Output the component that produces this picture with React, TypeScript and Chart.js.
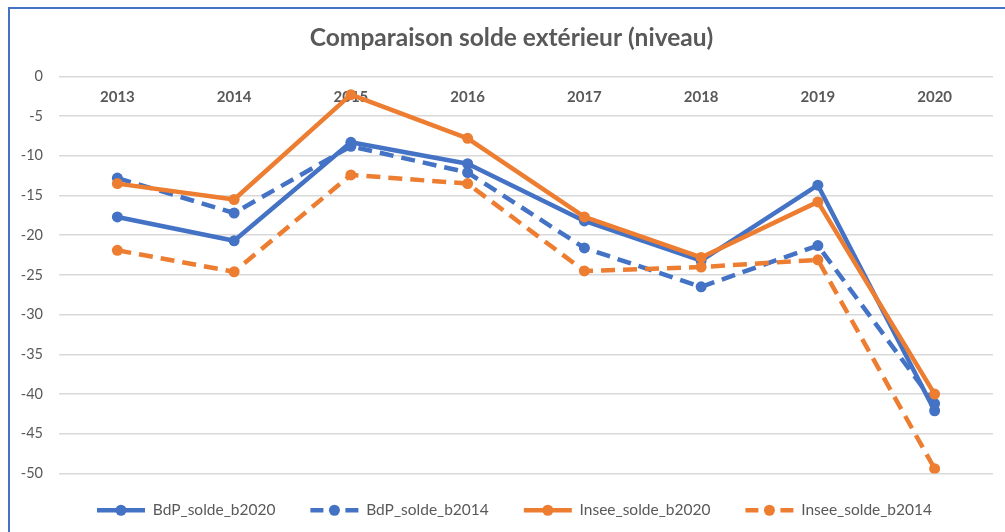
import React, { useEffect, useRef } from "react";
import { Chart, registerables } from "chart.js";

Chart.register(...registerables);

const categories = ["2013", "2014", "2015", "2016", "2017", "2018", "2019", "2020"];
const seriesNames = ["BdP_solde_b2020", "BdP_solde_b2014", "Insee_solde_b2020", "Insee_solde_b2014"];
const bdpB2020 = [-17.7, -20.7, -8.3, -11.0, -18.2, -23.2, -13.7, -42.1];
const bdpB2014 = [-12.8, -17.2, -8.8, -12.1, -21.6, -26.5, -21.3, -41.2];
const inseeB2020 = [-13.5, -15.5, -2.3, -7.8, -17.7, -22.8, -15.8, -40.0];
const inseeB2014 = [-21.9, -24.6, -12.4, -13.5, -24.5, -24.0, -23.1, -49.4];
const yTickValues = [0, -5, -10, -15, -20, -25, -30, -35, -40, -45, -50];
const titleText = "Comparaison solde extérieur (niveau)";

const BLUE = "#4472C4";
const ORANGE = "#ED7D31";
const TEXT = "#595959";
const seriesColors = [BLUE, BLUE, ORANGE, ORANGE];
const seriesDashed = [false, true, false, true];
const seriesValues = [bdpB2020, bdpB2014, inseeB2020, inseeB2014];

const SYMBOL_W = 48;
const SYMBOL_LEAD = 6;

const legendSymbols = {
  id: "legendSymbols",
  afterLayout(chart: any) {
    const y = chart.scales.y;
    if (y) y.left = 0;
  },
  afterDraw(chart: any) {
    const legend = chart.legend;
    if (!legend || !legend.legendHitBoxes) return;
    const ctx = chart.ctx;
    legend.legendHitBoxes.forEach((hb: any, i: number) => {
      const item = legend.legendItems[i];
      const idx = item.datasetIndex;
      const color = seriesColors[idx];
      const x0 = hb.left + SYMBOL_LEAD;
      const cy = hb.top + hb.height / 2;
      ctx.save();
      ctx.strokeStyle = color;
      ctx.lineWidth = 4.5;
      ctx.lineCap = "butt";
      ctx.setLineDash(seriesDashed[idx] ? [13, 22] : []);
      ctx.beginPath();
      ctx.moveTo(x0, cy);
      ctx.lineTo(x0 + SYMBOL_W, cy);
      ctx.stroke();
      ctx.setLineDash([]);
      ctx.fillStyle = color;
      ctx.beginPath();
      ctx.arc(x0 + SYMBOL_W / 2, cy, 5.5, 0, Math.PI * 2);
      ctx.fill();
      ctx.restore();
    });
  },
};

export default function App() {
  const canvasRef = useRef<HTMLCanvasElement | null>(null);

  useEffect(() => {
    document.body.style.margin = "0";
    const canvas = canvasRef.current;
    if (!canvas) return;
    Chart.defaults.font.family = 'Lato, "Noto Sans", sans-serif';

    const datasets = seriesNames.map((name, i) => ({
      label: name,
      data: seriesValues[i],
      borderColor: seriesColors[i],
      backgroundColor: seriesColors[i],
      pointBackgroundColor: seriesColors[i],
      pointBorderColor: seriesColors[i],
      pointBorderWidth: 0,
      pointRadius: 5.5,
      borderWidth: 4.5,
      borderDash: seriesDashed[i] ? [14, 8] : [],
      borderCapStyle: "butt" as const,
      borderJoinStyle: "round" as const,
      tension: 0,
      fill: false,
      order: seriesNames.length - i,
    }));

    const chart = new Chart(canvas, {
      type: "line",
      data: { labels: categories, datasets },
      plugins: [legendSymbols],
      options: {
        animation: false,
        responsive: false,
        maintainAspectRatio: false,
        layout: { padding: { left: 30, right: 12, top: 0, bottom: 4 } },
        plugins: {
          tooltip: { enabled: false },
          title: {
            display: true,
            text: titleText,
            color: TEXT,
            font: { size: 24.5, weight: "bold" },
            padding: { top: 23, bottom: 24 },
          },
          legend: {
            display: true,
            position: "bottom",
            labels: {
              usePointStyle: true,
              pointStyleWidth: SYMBOL_W + SYMBOL_LEAD,
              padding: 29,
              color: TEXT,
              font: { size: 15.5 },
              generateLabels: (ch: any) => {
                const items = Chart.defaults.plugins.legend.labels.generateLabels(ch);
                items.sort((a: any, b: any) => a.datasetIndex - b.datasetIndex);
                return items.map((it: any) => ({
                  ...it,
                  pointStyle: "line",
                  strokeStyle: "rgba(0,0,0,0)",
                  fillStyle: "rgba(0,0,0,0)",
                  lineWidth: 0,
                  lineDash: [],
                  fontColor: TEXT,
                }));
              },
            },
          },
        },
        scales: {
          x: {
            type: "category",
            position: { y: 0 } as any,
            offset: true,
            grid: { display: false, drawTicks: false },
            border: { display: false },
            ticks: {
              color: TEXT,
              font: { size: 15, weight: "bold" },
              padding: 12,
              maxRotation: 0,
            },
          },
          y: {
            min: -50,
            max: 0,
            afterFit: (scale: any) => {
              scale.width = 29;
            },
            afterBuildTicks: (scale: any) => {
              scale.ticks = yTickValues.slice().reverse().map((v) => ({ value: v }));
            },
            grid: { color: "#D9D9D9", lineWidth: 1.5, drawTicks: false },
            border: { display: false },
            ticks: {
              color: TEXT,
              font: { size: 14.5 },
              padding: 16,
            },
          },
        },
      },
    });
    return () => chart.destroy();
  }, []);

  return (
    <div style={{ position: "relative", width: 1005, height: 532, overflow: "hidden", background: "#fff" }}>
      <canvas ref={canvasRef} width={1005} height={532} style={{ position: "absolute", left: 0, top: 0 }} />
      <div
        style={{
          position: "absolute",
          left: 8,
          top: 7,
          width: 1200,
          height: 800,
          borderLeft: "2px solid #4472C4",
          borderTop: "2px solid #4472C4",
          pointerEvents: "none",
        }}
      />
    </div>
  );
}
